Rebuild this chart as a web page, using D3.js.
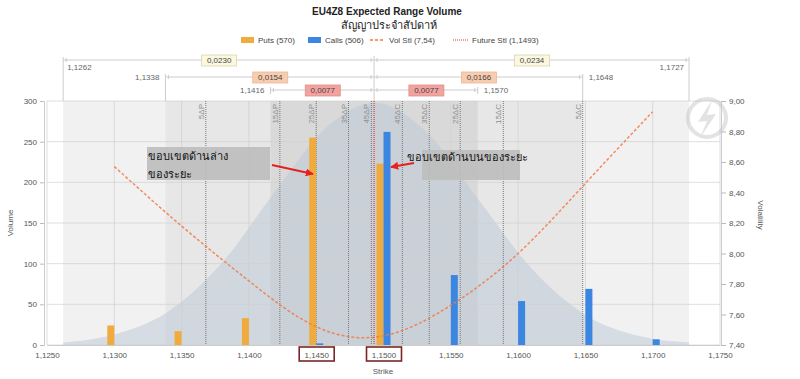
<!DOCTYPE html>
<html><head><meta charset="utf-8">
<script src="https://cdn.jsdelivr.net/npm/d3@7/dist/d3.min.js"></script>
<style>body{margin:0;background:#fff}svg{display:block;font-family:"Liberation Sans",Arial,sans-serif}</style>
</head><body><svg id="c" width="800" height="379"></svg>
<script>
// ---- data ----
const strikes = [1.1300, 1.1350, 1.1400, 1.1450, 1.1500, 1.1550, 1.1600, 1.1650, 1.1700];
const puts    = [24, 17, 33, 255, 223, 0, 0, 0, 0];
const calls   = [0, 0, 0, 2, 262, 86, 54, 69, 7];
const volStl  = [8.57, 8.18, 7.82, 7.52, 7.46, 7.66, 8.00, 8.46, 8.93];
const futureStl = 1.1493;
const rangeLow  = [1.1262, 1.1338, 1.1416];
const rangeHigh = [1.1727, 1.1648, 1.1570];
const diffLow   = ["0,0230", "0,0154", "0,0077"];
const diffHigh  = ["0,0234", "0,0166", "0,0077"];
const deltaNames   = ["5ΔP","15ΔP","25ΔP","35ΔP","45ΔP","45ΔC","35ΔC","25ΔC","15ΔC","5ΔC"];
const deltaStrikes = [1.1368, 1.1423, 1.1450, 1.1474, 1.1491, 1.1514, 1.1534, 1.1557, 1.1589, 1.1648];
const bellStrikes = [1.1262,1.1300,1.1340,1.1380,1.1420,1.1460,1.1493,1.1530,1.1570,1.1610,1.1650,1.1690,1.1727];
const bellValues  = [3, 13, 41, 101, 190, 271, 298, 265, 180, 94, 37, 11, 3];
const xTicks = [1.1250,1.1300,1.1350,1.1400,1.1450,1.1500,1.1550,1.1600,1.1650,1.1700,1.1750];
const yTicks = [0,50,100,150,200,250,300];
const vTicks = [7.40,7.60,7.80,8.00,8.20,8.40,8.60,8.80,9.00];
const legendItems = ["Puts (570)", "Calls (506)", "Vol Stl (7,54)", "Future Stl (1,1493)"];

// ---- scales ----
const svg = d3.select("#c");
const x = d3.scaleLinear().domain([1.125, 1.175]).range([47, 720]);
const y = d3.scaleLinear().domain([0, 300]).range([345, 101]);
const yv = d3.scaleLinear().domain([7.40, 9.00]).range([345, 101]);
const f4 = d => d3.format(".4f")(d).replace(".", ",");
const f2 = d => d3.format(".2f")(d).replace(".", ",");
const pTop = 101, pBot = 345;

// ---- bands ----
const bandCols = ["#f1f1f1", "#e7e7e7", "#d9d9d9"];
rangeLow.forEach((lo, i) => {
  svg.append("rect").attr("x", x(lo)).attr("y", pTop).attr("width", x(rangeHigh[i]) - x(lo))
    .attr("height", pBot - pTop).attr("fill", bandCols[i]);
});
// bell
const bellPts = bellStrikes.map((s, i) => [s, bellValues[i]]);
svg.append("path").datum(bellPts)
  .attr("d", d3.area().x(d => x(d[0])).y0(pBot).y1(d => y(d[1])).curve(d3.curveMonotoneX))
  .attr("fill", "#b9c8d6").attr("fill-opacity", 0.5);

// grid
svg.append("g").selectAll("line").data(yTicks).join("line")
  .attr("x1", x(1.125)).attr("x2", x(1.175)).attr("y1", d => y(d)).attr("y2", d => y(d))
  .attr("stroke", "#d0d0d0").attr("stroke-opacity", 0.7);
svg.append("g").selectAll("line").data(xTicks).join("line")
  .attr("x1", d => x(d)).attr("x2", d => x(d)).attr("y1", pTop).attr("y2", pBot)
  .attr("stroke", "#d0d0d0").attr("stroke-opacity", 0.7);

// faint watermark
const wm = svg.append("g").attr("opacity", 0.35);
wm.append("circle").attr("cx", 707).attr("cy", 118).attr("r", 19).attr("fill", "none").attr("stroke", "#b0b0b0").attr("stroke-width", 4);
wm.append("path").attr("d", "M712,100 L698,122 L707,121 L700,138 L716,114 L707,115 Z").attr("fill", "#b0b0b0");

// delta lines
const dg = svg.append("g");
dg.selectAll("line").data(deltaStrikes).join("line")
  .attr("x1", d => x(d)).attr("x2", d => x(d)).attr("y1", pTop).attr("y2", pBot)
  .attr("stroke", "#777").attr("stroke-dasharray", "1,1").attr("stroke-width", 1);
dg.selectAll("text").data(deltaStrikes).join("text")
  .attr("transform", d => `translate(${x(d) - 2},${pTop + 3}) rotate(-90)`)
  .attr("text-anchor", "end").attr("font-size", 8).attr("fill", "#8f8f8f")
  .text((d, i) => deltaNames[i]);

// bars
const bw = 7;
svg.append("g").selectAll("rect").data(strikes.map((s, i) => [s, puts[i]]).filter(d => d[1] > 0)).join("rect")
  .attr("x", d => x(d[0]) - bw).attr("width", bw).attr("y", d => y(d[1])).attr("height", d => pBot - y(d[1]))
  .attr("fill", "#f0ab3e");
svg.append("g").selectAll("rect").data(strikes.map((s, i) => [s, calls[i]]).filter(d => d[1] > 0)).join("rect")
  .attr("x", d => x(d[0])).attr("width", bw).attr("y", d => y(d[1])).attr("height", d => pBot - y(d[1]))
  .attr("fill", "#3b86e0");

// vol line
svg.append("path").datum(strikes.map((s, i) => [s, volStl[i]]))
  .attr("d", d3.line().x(d => x(d[0])).y(d => yv(d[1])).curve(d3.curveNatural))
  .attr("fill", "none").attr("stroke", "#f07a45").attr("stroke-width", 1.5).attr("stroke-dasharray", "3,2").attr("stroke-opacity", 0.85);
// future line
svg.append("line").attr("x1", x(futureStl)).attr("x2", x(futureStl)).attr("y1", pTop).attr("y2", pBot)
  .attr("stroke", "#e03a3a").attr("stroke-width", 1.2).attr("stroke-dasharray", "1,1");

// axes
const lax = svg.append("g").attr("transform", `translate(44,0)`)
  .call(d3.axisLeft(y).tickValues(yTicks).tickSize(4).tickPadding(3));
lax.select(".domain").attr("stroke", "#ccc");
lax.selectAll("line").attr("stroke", "#bbb");
lax.selectAll("text").attr("fill", "#555").attr("font-size", 8).attr("font-family", "Liberation Sans");
const rax = svg.append("g").attr("transform", `translate(721,0)`)
  .call(d3.axisRight(yv).tickValues(vTicks).tickFormat(f2).tickSize(5).tickPadding(3));
rax.select(".domain").attr("stroke", "#ccc");
rax.selectAll("line").attr("stroke", "#bbb");
rax.selectAll("text").attr("fill", "#555").attr("font-size", 8).attr("font-family", "Liberation Sans");
const bax = svg.append("g").attr("transform", `translate(0,${pBot})`)
  .call(d3.axisBottom(x).tickValues(xTicks).tickFormat(f4).tickSize(0).tickPadding(7));
bax.select(".domain").attr("stroke", "#ccc");
bax.selectAll("text").attr("fill", "#555").attr("font-size", 8).attr("font-family", "Liberation Sans");

// highlighted strike boxes
[1.1450, 1.1500].forEach(s => {
  svg.append("rect").attr("x", x(s) - 17).attr("y", 347).attr("width", 35).attr("height", 14)
    .attr("fill", "none").attr("stroke", "#7a2626").attr("stroke-width", 1.6);
});

// axis titles
svg.append("text").attr("x", 383).attr("y", 374).attr("text-anchor", "middle").attr("font-size", 8).attr("fill", "#555").text("Strike");
svg.append("text").attr("transform", "translate(13,223) rotate(-90)").attr("text-anchor", "middle").attr("font-size", 8).attr("fill", "#555").text("Volume");
svg.append("text").attr("transform", "translate(758,215) rotate(90)").attr("text-anchor", "middle").attr("font-size", 8).attr("fill", "#555").text("Volatility");

// title
svg.append("text").attr("x", 387).attr("y", 15).attr("text-anchor", "middle").attr("font-size", 10).attr("font-weight", "bold").attr("fill", "#222").text("EU4Z8 Expected Range Volume");
svg.append("text").attr("x", 389).attr("y", 29).attr("text-anchor", "middle").attr("font-size", 11).attr("fill", "#222").text("สัญญาประจำสัปดาห์");

// legend
const lg = svg.append("g").attr("font-size", 8).attr("fill", "#444");
const lx = [241, 308, 370, 453];
lg.append("rect").attr("x", lx[0]).attr("y", 37).attr("width", 13).attr("height", 6).attr("fill", "#f0ab3e");
lg.append("rect").attr("x", lx[1]).attr("y", 37).attr("width", 13).attr("height", 6).attr("fill", "#3b86e0");
lg.append("line").attr("x1", lx[2]).attr("x2", lx[2] + 15).attr("y1", 40).attr("y2", 40).attr("stroke", "#f07a45").attr("stroke-width", 1.3).attr("stroke-dasharray", "3,2");
lg.append("line").attr("x1", lx[3]).attr("x2", lx[3] + 15).attr("y1", 40).attr("y2", 40).attr("stroke", "#e03a3a").attr("stroke-width", 1.2).attr("stroke-dasharray", "1,1");
lg.selectAll("text").data(legendItems).join("text")
  .attr("x", (d, i) => lx[i] + (i < 2 ? 17 : 19)).attr("y", 43).text(d => d);

// top range annotations
const rowY = [60, 77, 90];
const boxFill = ["#fbf8df", "#f8ccae", "#f2a3a0"];
const boxStroke = ["#d8d4b0", "#e9b898", "#e08d8a"];
const ag = svg.append("g");
ag.append("line").attr("x1", x(futureStl)).attr("x2", x(futureStl)).attr("y1", 56).attr("y2", pTop).attr("stroke", "#ccc");
rangeLow.forEach((lo, i) => {
  const yy = rowY[i], hi = rangeHigh[i];
  ag.append("line").attr("x1", x(lo)).attr("x2", x(hi)).attr("y1", yy).attr("y2", yy).attr("stroke", "#ccc");
  const vEnd = i < 2 ? pTop : yy + 4;
  [lo, hi].forEach(s => ag.append("line").attr("x1", x(s)).attr("x2", x(s)).attr("y1", yy - 3).attr("y2", vEnd).attr("stroke", "#ccc"));
  [x(lo) + 3, x(hi) - 3, x(futureStl) - 3, x(futureStl) + 3].forEach(px =>
    ag.append("line").attr("x1", px).attr("x2", px).attr("y1", yy - 2).attr("y2", yy + 2).attr("stroke", "#ccc"));
  [[lo, futureStl, diffLow[i]], [futureStl, hi, diffHigh[i]]].forEach(([a, b, t]) => {
    const cx = (x(a) + x(b)) / 2;
    ag.append("rect").attr("x", cx - 17).attr("y", yy - 5).attr("width", 35).attr("height", 11)
      .attr("fill", boxFill[i]).attr("stroke", boxStroke[i]).attr("stroke-width", 0.8);
    ag.append("text").attr("x", cx + 0.5).attr("y", yy + 3).attr("text-anchor", "middle").attr("font-size", 8).attr("fill", "#444").text(t);
  });
  if (i === 0) {
    ag.append("text").attr("x", x(lo) + 4).attr("y", yy + 10).attr("font-size", 8).attr("fill", "#666").text(f4(lo));
    ag.append("text").attr("x", x(hi) - 5).attr("y", yy + 10).attr("text-anchor", "end").attr("font-size", 8).attr("fill", "#666").text(f4(hi));
  } else {
    ag.append("text").attr("x", x(lo) - 6).attr("y", yy + 3).attr("text-anchor", "end").attr("font-size", 8).attr("fill", "#666").text(f4(lo));
    ag.append("text").attr("x", x(hi) + 6).attr("y", yy + 3).attr("font-size", 8).attr("fill", "#666").text(f4(hi));
  }
});

// callouts
const defs = svg.append("defs");
defs.append("marker").attr("id", "ah").attr("viewBox", "0 0 10 10").attr("refX", 9).attr("refY", 5)
  .attr("markerWidth", 4).attr("markerHeight", 4).attr("orient", "auto")
  .append("path").attr("d", "M0,0L10,5L0,10z").attr("fill", "#e8201e");
svg.append("rect").attr("x", 147).attr("y", 147).attr("width", 123).attr("height", 33).attr("fill", "#bcbcbc").attr("fill-opacity", 0.9);
svg.append("text").attr("x", 148).attr("y", 160).attr("font-size", 11).attr("fill", "#111").text("ขอบเขตด้านล่าง");
svg.append("text").attr("x", 148).attr("y", 178).attr("font-size", 11).attr("fill", "#111").text("ของระยะ");
svg.append("line").attr("x1", 272).attr("y1", 165).attr("x2", 313).attr("y2", 174).attr("stroke", "#e8201e").attr("stroke-width", 2).attr("marker-end", "url(#ah)");
svg.append("rect").attr("x", 422).attr("y", 150).attr("width", 98).attr("height", 30).attr("fill", "#bcbcbc").attr("fill-opacity", 0.9);
svg.append("text").attr("x", 407).attr("y", 161).attr("font-size", 11).attr("fill", "#111").text("ขอบเขตด้านบนของระยะ");
svg.append("line").attr("x1", 414).attr("y1", 163).attr("x2", 391).attr("y2", 167).attr("stroke", "#e8201e").attr("stroke-width", 2).attr("marker-end", "url(#ah)");
</script></body></html>
